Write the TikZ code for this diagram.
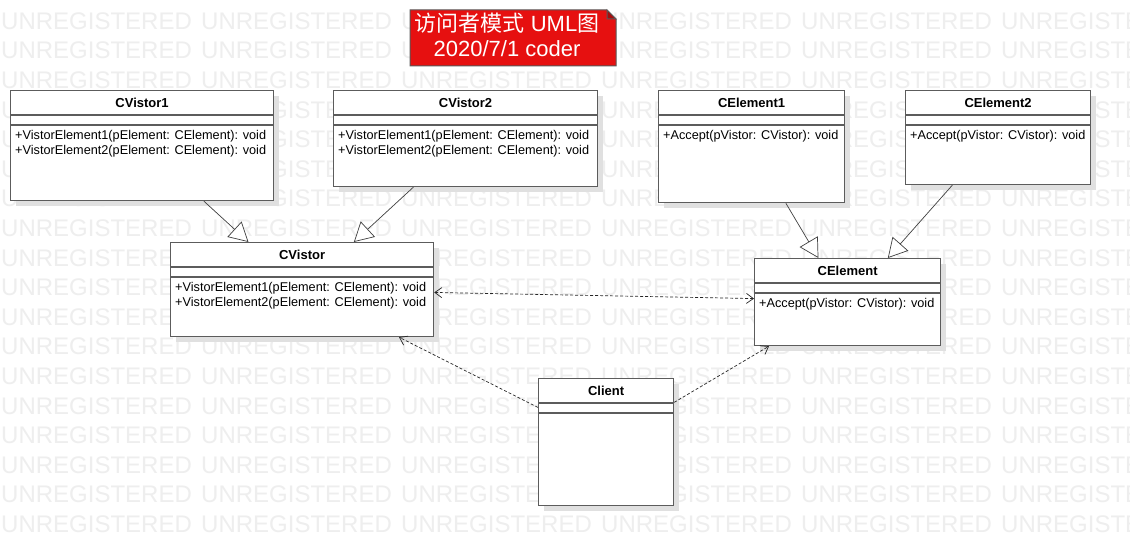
\documentclass[tikz,border=0pt]{standalone}
\usepackage{fontspec}
\setmainfont{Liberation Sans}
\newfontfamily\cjk{Noto Sans CJK SC}
\usetikzlibrary{arrows.meta,calc,shadows,positioning}

\definecolor{notered}{HTML}{E61010}
\definecolor{notefold}{HTML}{A80C0C}
\definecolor{boxline}{HTML}{5C5C5C}
\definecolor{wmgray}{HTML}{EEEEEE}

\tikzset{
  classbox/.style={draw=boxline, line width=1.2pt, fill=white, anchor=north west, inner sep=0pt,
    drop shadow={shadow xshift=5pt, shadow yshift=-5pt, fill=black!12, opacity=1}},
  compart/.style={draw=boxline, line width=1.2pt},
  classname/.style={font=\bfseries\fontsize{13}{15}\selectfont, inner sep=0pt},
  classops/.style={font=\fontsize{12.7}{15}\selectfont, align=left, anchor=north west, inner sep=0pt},
  realize/.style={draw=black!75, line width=0.7pt, -{Triangle[open, length=19pt, width=21pt, fill=white]}},
  uses/.style={draw=black!85, line width=0.7pt, dash pattern=on 3pt off 2pt, -{Straight Barb[length=7pt, width=10pt]}},
  watermark/.style={text=wmgray, font=\fontsize{24}{24}\selectfont, anchor=west, inner sep=0pt}
}

\begin{document}
\begin{tikzpicture}[x=1pt, y=-1pt]
  \useasboundingbox[fill=white] (0,0) rectangle (1130,545);

  % watermark
  \foreach \r in {0,...,18}
    \foreach \c in {0,...,5}
      \node[watermark] (wm-\r-\c) at (\c*200+1, 21+\r*29.6) {UNREGISTERED};

  % title note
  \filldraw[fill=notered, draw=black!65, line width=1pt] (410,10) -- (607,10) -- (616,19) -- (616,66) -- (410,66) -- cycle;
  \filldraw[fill=notefold, draw=black!65, line width=1pt] (607,10) -- (607,19) -- (616,19) -- cycle;
  \node[font=\fontsize{22}{24.5}\selectfont, text=white, align=center, inner sep=0pt] (title) at (507,35)
    {{\cjk 访问者模式} UML{\cjk 图}\\2020/7/1 coder};

  % visitors
  \node[classbox, minimum width=263pt, minimum height=110pt] (cvistor1) at (10,90) {};
  \node[classbox, minimum width=264pt, minimum height=96pt] (cvistor2) at (333,90) {};
  \node[classbox, minimum width=263pt, minimum height=94pt] (cvistor) at (170,242) {};

  % elements
  \node[classbox, minimum width=186pt, minimum height=112pt] (celement1) at (658,90) {};
  \node[classbox, minimum width=185pt, minimum height=94pt] (celement2) at (905,90) {};
  \node[classbox, minimum width=186pt, minimum height=87pt] (celement) at (754,258) {};

  % client
  \node[classbox, minimum width=135pt, minimum height=127pt] (client) at (538,378) {};

  % compartments and texts
  \foreach \n/\t in {cvistor1/CVistor1, cvistor2/CVistor2, cvistor/CVistor,
                     celement1/CElement1, celement2/CElement2, celement/CElement, client/Client} {
    \draw[compart] ($(\n.north west)+(0,25)$) -- ($(\n.north east)+(0,25)$);
    \draw[compart] ($(\n.north west)+(0,35)$) -- ($(\n.north east)+(0,35)$);
    \node[classname] (\n-name) at ($(\n.north)+(0,12.5)$) {\t};
  }
  \foreach \n in {cvistor1, cvistor2, cvistor}
    \node[classops] (\n-ops) at ($(\n.north west)+(5,40)$)
      {+VistorElement1(pElement: CElement): void\\+VistorElement2(pElement: CElement): void};
  \foreach \n in {celement1, celement2, celement}
    \node[classops] (\n-ops) at ($(\n.north west)+(5,40)$) {+Accept(pVistor: CVistor): void};

  % generalisation
  \draw[realize] ($(cvistor1.south west)!0.734!(cvistor1.south east)$) -- ($(cvistor.north west)!0.297!(cvistor.north east)$);
  \draw[realize] ($(cvistor2.south west)!0.303!(cvistor2.south east)$) -- ($(cvistor.north west)!0.696!(cvistor.north east)$);
  \draw[realize] ($(celement1.south west)!0.683!(celement1.south east)$) -- ($(celement.north west)!0.344!(celement.north east)$);
  \draw[realize] ($(celement2.south west)!0.254!(celement2.south east)$) -- ($(celement.north west)!0.715!(celement.north east)$);

  % dependencies
  \draw[uses, {Straight Barb[length=7pt, width=10pt]}-{Straight Barb[length=7pt, width=10pt]}]
    ($(cvistor.north east)!0.53!(cvistor.south east)$) -- ($(celement.north west)!0.46!(celement.south west)$);
  \draw[uses] ($(client.north west)!0.23!(client.south west)$) -- ($(cvistor.south west)!0.867!(cvistor.south east)$);
  \draw[uses] ($(client.north east)!0.19!(client.south east)$) -- ($(celement.south west)!0.08!(celement.south east)$);
\end{tikzpicture}
\end{document}
